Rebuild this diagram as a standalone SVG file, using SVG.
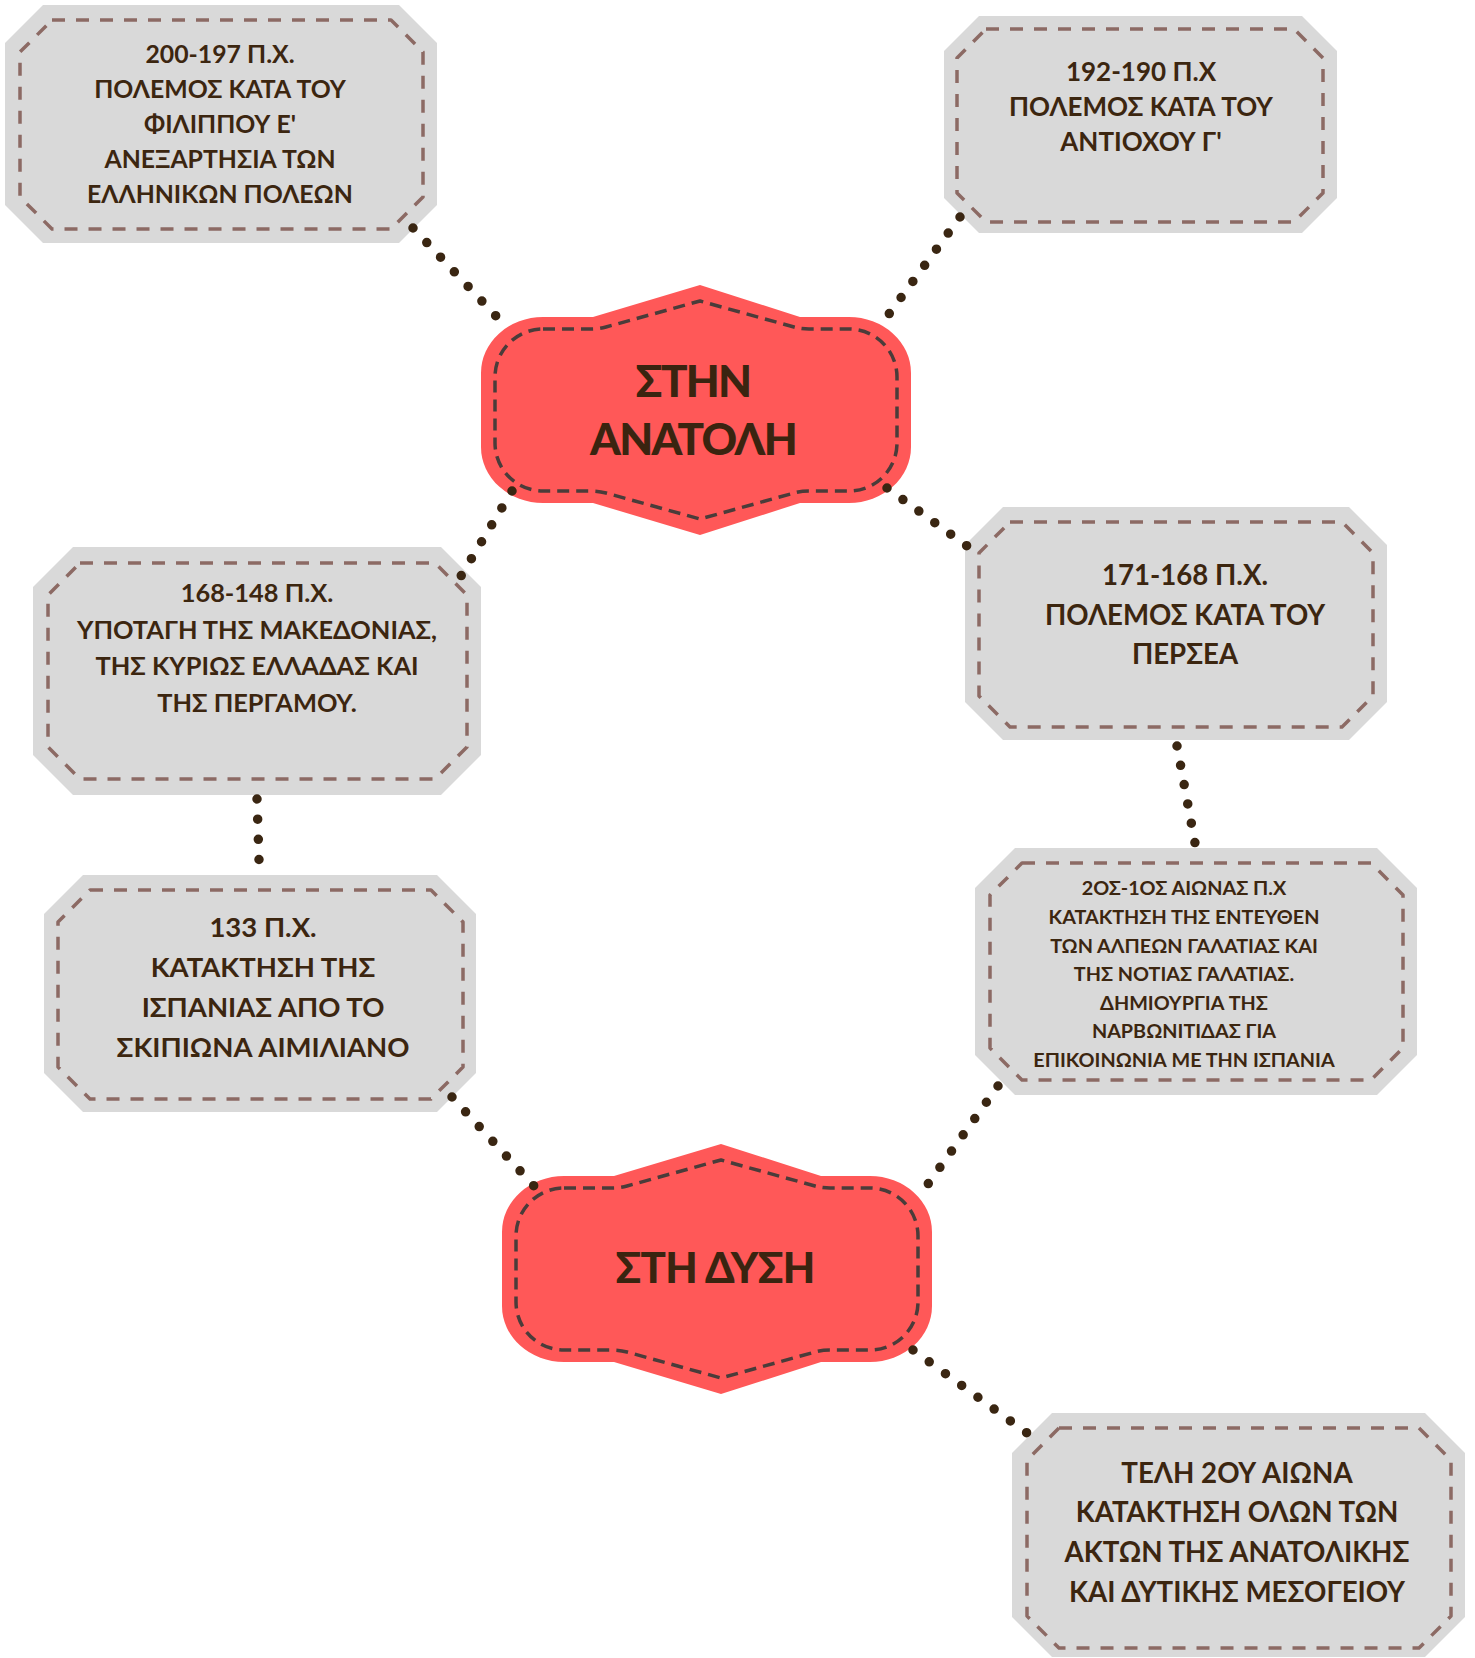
<svg xmlns="http://www.w3.org/2000/svg" width="1475" height="1658" viewBox="0 0 1475 1658">
<style>
.box{fill:#d9d9d9}
.boxd{fill:none;stroke:#8c6a64;stroke-width:3.5;stroke-dasharray:13 11;stroke-linejoin:round}
.hub{fill:#ff5858}
.hubd{fill:none;stroke:#4a3c3a;stroke-width:3.5;stroke-dasharray:12 7;stroke-linejoin:round}
.t{font-family:Lato,"Noto Sans",sans-serif;font-weight:700;fill:#3c2610;text-anchor:middle}
.h{font-family:Lato,"Noto Sans",sans-serif;font-weight:900;fill:#3a2410;text-anchor:middle}
.dot{fill:none;stroke:#3a2612;stroke-width:9.5;stroke-linecap:round;stroke-dasharray:0 20}
</style>
<defs>
<path id="hubOuter" d="M62,0 H112 L219,-32 L319,0 H368 A62 56 0 0 1 430 56 V130 A62 56 0 0 1 368 186 H319 L219,218 L112,186 H62 A62 56 0 0 1 0 130 V56 A62 56 0 0 1 62 0 Z"/>
<path id="hubInner" d="M62,12 H110 Q118,12 125,10 L219,-16 L313,10 Q320,12 328,12 H368 A48 48 0 0 1 416 60 V126 A48 48 0 0 1 368 174 H328 Q320,174 313,176 L219,202 L125,176 Q118,174 110,174 H62 A48 48 0 0 1 14 126 V60 A48 48 0 0 1 62 12 Z"/>
</defs>

<g id="node-200-197">
<path class="box" d="M43,5 H399 L437,43 V205 L399,243 H43 L5,205 V43 Z"/>
<path class="boxd" d="M52,20 H391 L423,52 V197 L391,229 H52 L20,197 V52 Z"/>
<text class="t" font-size="24.8"><tspan x="220" y="63">200-197 Π.Χ.</tspan><tspan x="220" y="98">ΠΟΛΕΜΟΣ ΚΑΤΑ ΤΟΥ</tspan><tspan x="220" y="133">ΦΙΛΙΠΠΟΥ Ε'</tspan><tspan x="220" y="168">ΑΝΕΞΑΡΤΗΣΙΑ ΤΩΝ</tspan><tspan x="220" y="203">ΕΛΛΗΝΙΚΩΝ ΠΟΛΕΩΝ</tspan></text>
</g>

<g id="node-192-190">
<path class="box" d="M979,16 H1302 L1337,51 V198 L1302,233 H979 L944,198 V51 Z"/>
<path class="boxd" d="M986,29 H1294 L1323,58 V193 L1294,222 H986 L957,193 V58 Z"/>
<text class="t" font-size="26"><tspan x="1141" y="81">192-190 Π.Χ</tspan><tspan x="1141" y="116">ΠΟΛΕΜΟΣ ΚΑΤΑ ΤΟΥ</tspan><tspan x="1141" y="151">ΑΝΤΙΟΧΟΥ Γ'</tspan></text>
</g>

<g id="node-171-168">
<path class="box" d="M1003,507 H1349 L1387,545 V702 L1349,740 H1003 L965,702 V545 Z"/>
<path class="boxd" d="M1010,522 H1342 L1373,553 V696 L1342,727 H1010 L979,696 V553 Z"/>
<text class="t" font-size="27.6"><tspan x="1185" y="585">171-168 Π.Χ.</tspan><tspan x="1185" y="624.5">ΠΟΛΕΜΟΣ ΚΑΤΑ ΤΟΥ</tspan><tspan x="1185" y="664">ΠΕΡΣΕΑ</tspan></text>
</g>

<g id="node-168-148">
<path class="box" d="M73,547 H441 L481,587 V755 L441,795 H73 L33,755 V587 Z"/>
<path class="boxd" d="M80,563 H435 L467,595 V747 L435,779 H80 L48,747 V595 Z"/>
<text class="t" font-size="25.4"><tspan x="257" y="602">168-148 Π.Χ.</tspan><tspan x="257" y="638.5">ΥΠΟΤΑΓΗ ΤΗΣ ΜΑΚΕΔΟΝΙΑΣ,</tspan><tspan x="257" y="675">ΤΗΣ ΚΥΡΙΩΣ ΕΛΛΑΔΑΣ ΚΑΙ</tspan><tspan x="257" y="711.5">ΤΗΣ ΠΕΡΓΑΜΟΥ.</tspan></text>
</g>

<g id="node-133">
<path class="box" d="M83,875 H437 L476,914 V1073 L437,1112 H83 L44,1073 V914 Z"/>
<path class="boxd" d="M90,890 H431 L463,922 V1067 L431,1099 H90 L58,1067 V922 Z"/>
<text class="t" font-size="27.5"><tspan x="263" y="937">133 Π.Χ.</tspan><tspan x="263" y="977">ΚΑΤΑΚΤΗΣΗ ΤΗΣ</tspan><tspan x="263" y="1017">ΙΣΠΑΝΙΑΣ ΑΠΟ ΤΟ</tspan><tspan x="263" y="1057">ΣΚΙΠΙΩΝΑ ΑΙΜΙΛΙΑΝΟ</tspan></text>
</g>

<g id="node-2os-1os">
<path class="box" d="M1015,848 H1377 L1417,888 V1055 L1377,1095 H1015 L975,1055 V888 Z"/>
<path class="boxd" d="M1022,863 H1371 L1403,895 V1048 L1371,1080 H1022 L990,1048 V895 Z"/>
<text class="t" font-size="19.8"><tspan x="1184" y="895">2ΟΣ-1ΟΣ ΑΙΩΝΑΣ Π.Χ</tspan><tspan x="1184" y="924">ΚΑΤΑΚΤΗΣΗ ΤΗΣ ΕΝΤΕΥΘΕΝ</tspan><tspan x="1184" y="953">ΤΩΝ ΑΛΠΕΩΝ ΓΑΛΑΤΙΑΣ ΚΑΙ</tspan><tspan x="1184" y="981">ΤΗΣ ΝΟΤΙΑΣ ΓΑΛΑΤΙΑΣ.</tspan><tspan x="1184" y="1010">ΔΗΜΙΟΥΡΓΙΑ ΤΗΣ</tspan><tspan x="1184" y="1038">ΝΑΡΒΩΝΙΤΙΔΑΣ ΓΙΑ</tspan><tspan x="1184" y="1067">ΕΠΙΚΟΙΝΩΝΙΑ ΜΕ ΤΗΝ ΙΣΠΑΝΙΑ</tspan></text>
</g>

<g id="node-teli-2ou">
<path class="box" d="M1052,1413 H1425 L1465,1453 V1617 L1425,1657 H1052 L1012,1617 V1453 Z"/>
<path class="boxd" d="M1059,1428 H1419 L1451,1460 V1616 L1419,1648 H1059 L1027,1616 V1460 Z"/>
<text class="t" font-size="27.7"><tspan x="1237" y="1483">ΤΕΛΗ 2ΟΥ ΑΙΩΝΑ</tspan><tspan x="1237" y="1522">ΚΑΤΑΚΤΗΣΗ ΟΛΩΝ ΤΩΝ</tspan><tspan x="1237" y="1562">ΑΚΤΩΝ ΤΗΣ ΑΝΑΤΟΛΙΚΗΣ</tspan><tspan x="1237" y="1602">ΚΑΙ ΔΥΤΙΚΗΣ ΜΕΣΟΓΕΙΟΥ</tspan></text>
</g>

<g id="hub-anatoli">
<use href="#hubOuter" class="hub" transform="translate(481,317)"/>
<use href="#hubInner" class="hubd" transform="translate(481,317)"/>
<text class="h" font-size="44" letter-spacing="-1.7"><tspan x="693" y="397">ΣΤΗΝ</tspan><tspan x="693" y="455">ΑΝΑΤΟΛΗ</tspan></text>
</g>

<g id="hub-dysi">
<use href="#hubOuter" class="hub" transform="translate(502,1176)"/>
<use href="#hubInner" class="hubd" transform="translate(502,1176)"/>
<text class="h" font-size="42" letter-spacing="-0.7" x="715" y="1283">ΣΤΗ ΔΥΣΗ</text>
</g>

<g id="connectors">
<line class="dot" pathLength="120.5" x1="413" y1="228" x2="496" y2="316"/>
<line class="dot" pathLength="120.5" x1="960" y1="217" x2="889" y2="314"/>
<line class="dot" pathLength="100.5" x1="512" y1="491" x2="461" y2="576"/>
<line class="dot" pathLength="100.5" x1="887" y1="488" x2="967" y2="546"/>
<line class="dot" pathLength="60.5" x1="257" y1="799" x2="259" y2="860"/>
<line class="dot" pathLength="100.5" x1="1177" y1="746" x2="1195" y2="843"/>
<line class="dot" pathLength="120.5" x1="452" y1="1097" x2="534" y2="1186"/>
<line class="dot" pathLength="120.5" x1="998" y1="1086" x2="928" y2="1184"/>
<line class="dot" pathLength="140.5" x1="913" y1="1350" x2="1027" y2="1433"/>
</g>
</svg>
